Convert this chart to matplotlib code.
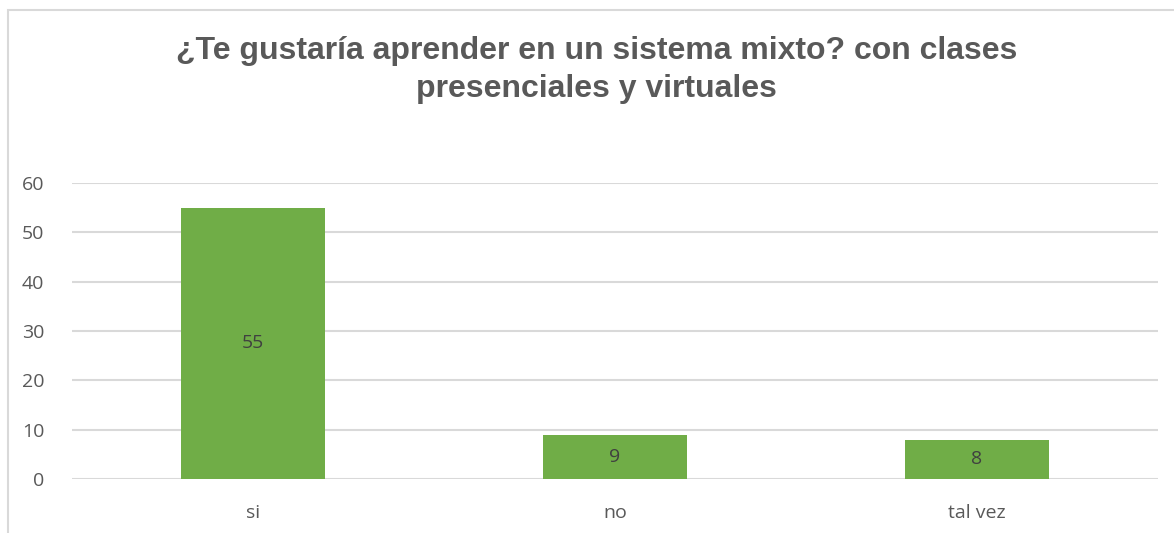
import matplotlib.pyplot as plt
from matplotlib.patches import Rectangle

categories = ['si', 'no', 'tal vez']
values = [55, 9, 8]
yticks = [0, 10, 20, 30, 40, 50, 60]

fig = plt.figure(figsize=(11.74, 5.33), dpi=100)
ax = fig.add_axes([72/1174, 1-479/533, (1158-72)/1174, (479-183)/533])

# chart border (runs off right and bottom)
fig.patches.append(Rectangle((8/1174, -0.1), 1.2, 1-10/533+0.1, transform=fig.transFigure,
                             fill=False, edgecolor='#D9D9D9', linewidth=1.5))

x = range(len(categories))
bars = ax.bar(x, values, width=0.4, color='#70AD47', zorder=3)
for b, v in zip(bars, values):
    ax.text(b.get_x() + b.get_width()/2, v/2, str(v), ha='center', va='center',
            fontsize=14, color='#404040', family='Open Sans', zorder=4)

ax.set_xlim(-0.5, 2.5)
ax.set_ylim(0, 60)
ax.set_yticks(yticks)
ax.set_xticks(list(x))
ax.set_xticklabels(categories)
ax.grid(axis='y', color='#D9D9D9', linewidth=1.5, zorder=0)
for s in ax.spines.values():
    s.set_visible(False)
ax.tick_params(length=0, labelsize=14, labelcolor='#595959')
ax.tick_params(axis='y', pad=20)
ax.tick_params(axis='x', pad=18)
for lab in ax.get_xticklabels() + ax.get_yticklabels():
    lab.set_family('Open Sans')

fig.text(0.508, 1-70/533, '¿Te gustaría aprender en un sistema mixto? con clases\npresenciales y virtuales',
         ha='center', va='center', fontsize=23, fontweight='bold', color='#595959',
         family='Liberation Sans', linespacing=1.32)

fig.savefig('out.png', dpi=100)
